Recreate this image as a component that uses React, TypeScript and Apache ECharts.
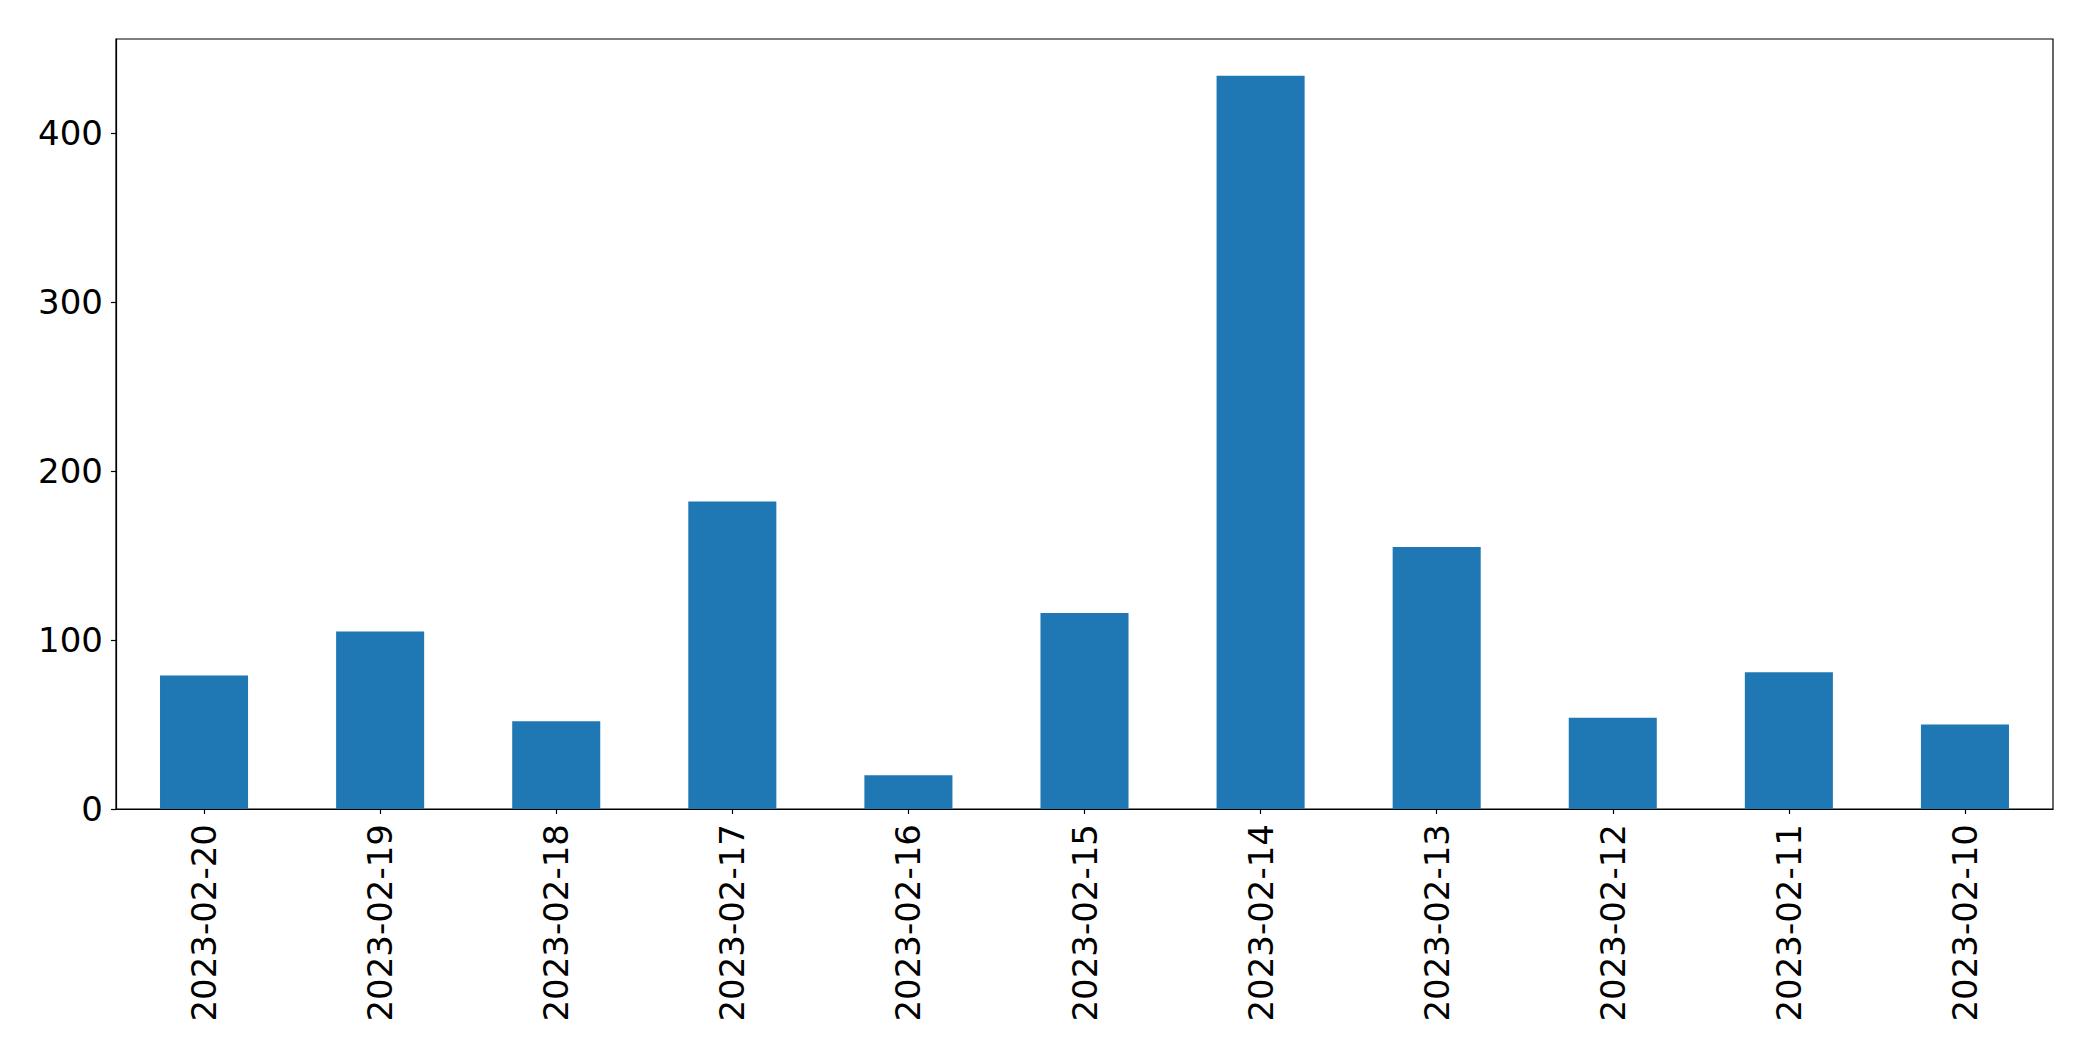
import React, { useEffect, useRef } from "react";
import * as echarts from "echarts";

const categories = [
  "2023-02-20", "2023-02-19", "2023-02-18", "2023-02-17", "2023-02-16", "2023-02-15",
  "2023-02-14", "2023-02-13", "2023-02-12", "2023-02-11", "2023-02-10",
];
const values = [79, 105, 52, 182, 20, 116, 434, 155, 54, 81, 50];
const yTicks = [0, 100, 200, 300, 400];

export default function App() {
  const ref = useRef<HTMLDivElement>(null);
  useEffect(() => {
    if (!ref.current) return;
    const chart = echarts.init(ref.current, null, { renderer: "svg" });
    const font = "'DejaVu Sans', sans-serif";
    chart.setOption({
      animation: false,
      backgroundColor: "#ffffff",
      grid: {
        left: 116,
        top: 39,
        right: 40,
        bottom: 252,
        show: true,
        borderColor: "#000000",
        borderWidth: 1.2,
        backgroundColor: "transparent",
      },
      xAxis: {
        type: "category",
        data: categories,
        boundaryGap: true,
        axisLine: { show: true, lineStyle: { color: "#000000", width: 1.2 } },
        axisTick: { show: true, alignWithLabel: true, length: 5, lineStyle: { color: "#000000", width: 1.2 } },
        axisLabel: {
          rotate: 90,
          margin: 15,
          color: "#000000",
          fontSize: 34,
          fontFamily: font,
          interval: 0,
        },
        splitLine: { show: false },
      },
      yAxis: {
        type: "value",
        min: 0,
        max: Math.max(...values) * 1.05,
        interval: 100,
        axisLine: { show: true, lineStyle: { color: "#000000", width: 1.2 } },
        axisTick: { show: true, length: 5, lineStyle: { color: "#000000", width: 1.2 } },
        axisLabel: {
          margin: 13,
          color: "#000000",
          fontSize: 34,
          fontFamily: font,
          showMaxLabel: false,
          formatter: (v: number) => (yTicks.includes(v) ? String(v) : ""),
        },
        splitLine: { show: false },
      },
      series: [
        {
          type: "bar",
          data: values,
          barWidth: "50%",
          itemStyle: { color: "#1f77b4" },
        },
      ],
    });
    return () => chart.dispose();
  }, []);
  return (
    <div
      ref={ref}
      style={{ position: "fixed", left: 0, top: 0, width: 2093, height: 1061, background: "#fff" }}
    />
  );
}
